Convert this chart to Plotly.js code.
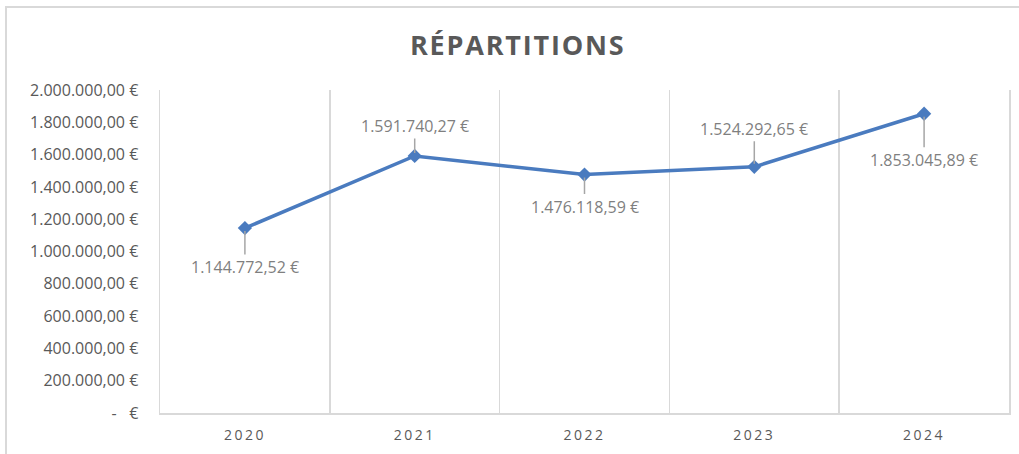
<!DOCTYPE html>
<html>
<head>
<meta charset="utf-8">
<script src="https://cdn.plot.ly/plotly-3.0.1.min.js"></script>
<style>
  html, body { margin: 0; padding: 0; background: #ffffff; }
  #wrap { position: relative; width: 1019px; height: 454px; overflow: hidden; }
  #frame { position: absolute; left: 5px; top: 6px; width: 1030px; height: 470px;
           border-left: 2px solid #d9d9d9; border-top: 2px solid #d9d9d9; pointer-events: none; }
  #chart { position: absolute; left: 0; top: 0; width: 1019px; height: 454px; }
</style>
</head>
<body>
<div id="wrap">
  <div id="chart"></div>
  <div id="frame"></div>
</div>
<script>
const years = ['2020', '2021', '2022', '2023', '2024'];
const amounts = [1144772.52, 1591740.27, 1476118.59, 1524292.65, 1853045.89];
const labelOffsets = [39, -30, 32, -38, 46];
const yTicks = [0, 200000, 400000, 600000, 800000, 1000000, 1200000, 1400000, 1600000, 1800000, 2000000];

function fmtEuro(v) {
  if (v === 0) return '-   €';
  const parts = v.toFixed(2).split('.');
  const intPart = parts[0].replace(/\B(?=(\d{3})+(?!\d))/g, '.');
  return intPart + ',' + parts[1] + ' €';
}

const trace = {
  x: years,
  y: amounts,
  type: 'scatter',
  mode: 'lines+markers',
  line: { color: '#4a7bbf', width: 3.5 },
  marker: { symbol: 'diamond', size: 11, color: '#4a7bbf' },
  hoverinfo: 'skip'
};

const annotations = years.map((yr, i) => ({
  x: i, y: amounts[i], xref: 'x', yref: 'y',
  text: fmtEuro(amounts[i]),
  showarrow: true, arrowhead: 0, arrowwidth: 1.5, arrowcolor: '#a6a6a6',
  ax: 0, ay: labelOffsets[i], standoff: 3, startstandoff: 0,
  font: { family: 'Open Sans, sans-serif', size: 16, color: '#7f7f7f' }
}));

const layout = {
  width: 1019, height: 454,
  margin: { l: 160, r: 10, t: 90, b: 41 },
  paper_bgcolor: 'rgba(0,0,0,0)', plot_bgcolor: '#ffffff',
  title: {
    text: '<b>RÉPARTITIONS</b>',
    font: { family: 'Open Sans, sans-serif', size: 27, color: '#595959' },
    x: 0.508, xanchor: 'center', y: 0.9, yanchor: 'middle'
  },
  showlegend: false,
  xaxis: {
    type: 'category', range: [-0.5, 4.5],
    tickson: 'boundaries', showgrid: true, gridcolor: '#d9d9d9', gridwidth: 1.5,
    ticks: '', showline: true, linecolor: '#d9d9d9', linewidth: 1.5,
    tickfont: { family: 'Open Sans, sans-serif', size: 14, color: '#595959' },
    ticklabelstandoff: 9, zeroline: false, fixedrange: true
  },
  yaxis: {
    range: [0, 2000000], tickvals: yTicks, ticktext: yTicks.map(fmtEuro),
    showgrid: false, zeroline: false, showline: true, mirror: true,
    linecolor: '#d9d9d9', linewidth: 1.5, ticks: '',
    tickfont: { family: 'Open Sans, sans-serif', size: 16, color: '#595959' },
    ticklabelstandoff: 17, fixedrange: true
  },
  annotations: annotations
};

Plotly.newPlot('chart', [trace], layout, { displayModeBar: false, staticPlot: true }).then(gd => {
  gd.querySelectorAll('.gtitle').forEach(t => t.style.letterSpacing = '1.8px');
  gd.querySelectorAll('.xtick text').forEach(t => t.style.letterSpacing = '2.5px');
});
</script>
</body>
</html>
